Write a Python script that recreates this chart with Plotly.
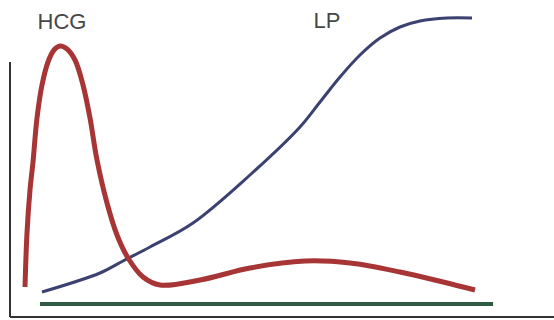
import plotly.graph_objects as go

H = 320
# HCG curve (x, vertical pixel position)
hcg_x = [25, 27, 30, 33, 37, 42, 48, 54, 60, 67, 75, 83, 90, 97, 107, 117, 128, 143, 160, 200, 250, 305, 350, 400, 443, 475]
hcg_py = [287, 233, 190, 162, 118, 85, 62, 50, 46, 49, 60, 85, 118, 160, 203, 235, 258, 277, 285, 280, 268, 261, 263, 272, 282, 290]
# LP curve
lp_x = [42, 100, 123, 150, 193, 250, 300, 320, 340, 360, 380, 400, 420, 447, 472]
lp_py = [292, 273, 261, 247, 223, 175, 127, 102, 77, 55, 38, 27, 21, 18, 18]
# baseline (green)
base_x = [40, 493]
base_py = [304, 304]

labels = ["HCG", "LP"]
label_x = [62, 327]
label_py = [23, 22]

def lv(py):
    return [H - p for p in py]

fig = go.Figure()
fig.add_trace(go.Scatter(x=base_x, y=lv(base_py), mode="lines",
                         line=dict(color="#2f5a44", width=4), hoverinfo="skip"))
fig.add_trace(go.Scatter(x=lp_x, y=lv(lp_py), mode="lines",
                         line=dict(color="#3b4170", width=3, shape="spline"), hoverinfo="skip"))
fig.add_trace(go.Scatter(x=hcg_x, y=lv(hcg_py), mode="lines",
                         line=dict(color="#a83535", width=5, shape="spline"), hoverinfo="skip"))
fig.add_trace(go.Scatter(x=label_x, y=lv(label_py), mode="text", text=labels,
                         textfont=dict(family="Liberation Sans, Arial", size=22, color="#474747"),
                         hoverinfo="skip"))

# axes lines
fig.add_shape(type="line", x0=10, x1=10, y0=H - 62, y1=H - 317,
              line=dict(color="#333333", width=2))
fig.add_shape(type="line", x0=10, x1=554, y0=H - 317, y1=H - 317,
              line=dict(color="#333333", width=2))

fig.update_layout(
    width=554, height=320,
    margin=dict(l=0, r=0, t=0, b=0),
    paper_bgcolor="white", plot_bgcolor="white",
    showlegend=False,
    xaxis=dict(range=[0, 554], visible=False, fixedrange=True),
    yaxis=dict(range=[0, 320], visible=False, fixedrange=True),
)
fig.write_html("out.html", config={"displayModeBar": False},
               post_script="document.body.style.margin='0';document.body.style.overflow='hidden';")
